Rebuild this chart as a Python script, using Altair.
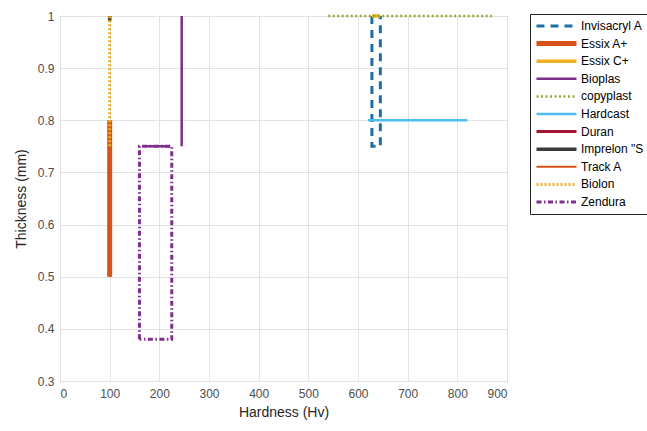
import altair as alt
import pandas as pd

# ---- data ----
materials = ["Invisacryl A", "Essix A+", "Essix C+", "Bioplas", "copyplast",
             "Hardcast", "Duran", "Imprelon \"S", "Track A", "Biolon", "Zendura"]
colors = ["#1f6fa6", "#D95319", "#EDB120", "#7E2F8E", "#9aa53a",
          "#4DBEEE", "#A2142F", "#3a3a3a", "#D95319", "#EDB120", "#7E2F8E"]
dashes = [[8, 6], [1, 0], [1, 0], [1, 0], [2, 2.5],
          [1, 0], [1, 0], [1, 0], [1, 0], [2, 2], [5, 2.5, 1.5, 2.5]]
widths = [3, 5, 3.5, 2.5, 2.5, 2.5, 3, 3.5, 2, 3, 3]

# each series: list of segments, each segment (x list, y list)
series_paths = {
    "Invisacryl A": [([628, 628, 645, 645], [1.0, 0.75, 0.75, 1.0])],
    "Essix A+": [([100, 100], [0.5, 0.8])],
    "Essix C+": [([628, 645], [1.0, 1.0])],
    "Bioplas": [([245, 245], [0.75, 1.0]), ([175, 222], [0.75, 0.75])],
    "copyplast": [([540, 870], [1.0, 1.0])],
    "Hardcast": [([620, 820], [0.8, 0.8])],
    "Duran": [([100, 100], [0.995, 1.0])],
    "Imprelon \"S": [([100, 100], [0.99, 1.0])],
    "Track A": [([100, 100], [0.5, 0.75])],
    "Biolon": [([100, 100], [0.75, 1.0])],
    "Zendura": [([160, 160, 225, 225, 160], [0.38, 0.75, 0.75, 0.38, 0.38])],
}

x_ticks = [0, 100, 200, 300, 400, 500, 600, 700, 800, 900]
y_ticks = [0.3, 0.4, 0.5, 0.6, 0.7, 0.8, 0.9, 1.0]

rows = []
for m in materials:
    for si, (xs, ys) in enumerate(series_paths[m]):
        for k, (xv, yv) in enumerate(zip(xs, ys)):
            rows.append({"material": m, "seg": f"{m}-{si}", "order": k, "x": xv, "y": yv})
df = pd.DataFrame(rows)

FONT = "Liberation Sans"

legend = alt.Legend(
    title=None, orient="none", legendX=470, legendY=-2,
    strokeColor="#262626", fillColor="white", padding=4,
    symbolType="stroke", symbolSize=1600, symbolStrokeWidth=3,
    labelFont=FONT, labelFontSize=12, labelColor="#000000", labelLimit=300,
    rowPadding=1.6, clipHeight=16, labelOffset=2,
)

chart = alt.Chart(df).mark_line(clip=False, strokeCap="butt").encode(
    x=alt.X("x:Q", scale=alt.Scale(domain=[0, 900], nice=False),
            axis=alt.Axis(values=x_ticks, title="Hardness (Hv)", format="d")),
    y=alt.Y("y:Q", scale=alt.Scale(domain=[0.3, 1.0], nice=False, zero=False),
            axis=alt.Axis(values=y_ticks, title="Thickness (mm)", format="~g")),
    color=alt.Color("material:N", scale=alt.Scale(domain=materials, range=colors), legend=legend),
    strokeDash=alt.StrokeDash("material:N", scale=alt.Scale(domain=materials, range=dashes), legend=legend),
    strokeWidth=alt.StrokeWidth("material:N", scale=alt.Scale(type="ordinal", domain=materials, range=widths), legend=legend),
    detail="seg:N",
    order="order:Q",
).properties(
    width=447, height=365,
    autosize=alt.AutoSizeParams(type="none"),
    padding={"left": 60, "top": 16, "right": 140, "bottom": 50},
).configure_view(
    stroke="#262626", strokeWidth=1
).configure_axis(
    domain=False, ticks=False, grid=True, gridColor="#e3e3e3", gridWidth=1,
    labelFont=FONT, labelFontSize=12, labelColor="#4d4d4d",
    titleFont=FONT, titleFontSize=14, titleColor="#262626", titleFontWeight="normal",
).configure_axisX(labelPadding=7, titlePadding=6).configure_axisY(labelPadding=6, titlePadding=9)

chart.save("out.html", embed_options={"renderer": "svg", "actions": False})
